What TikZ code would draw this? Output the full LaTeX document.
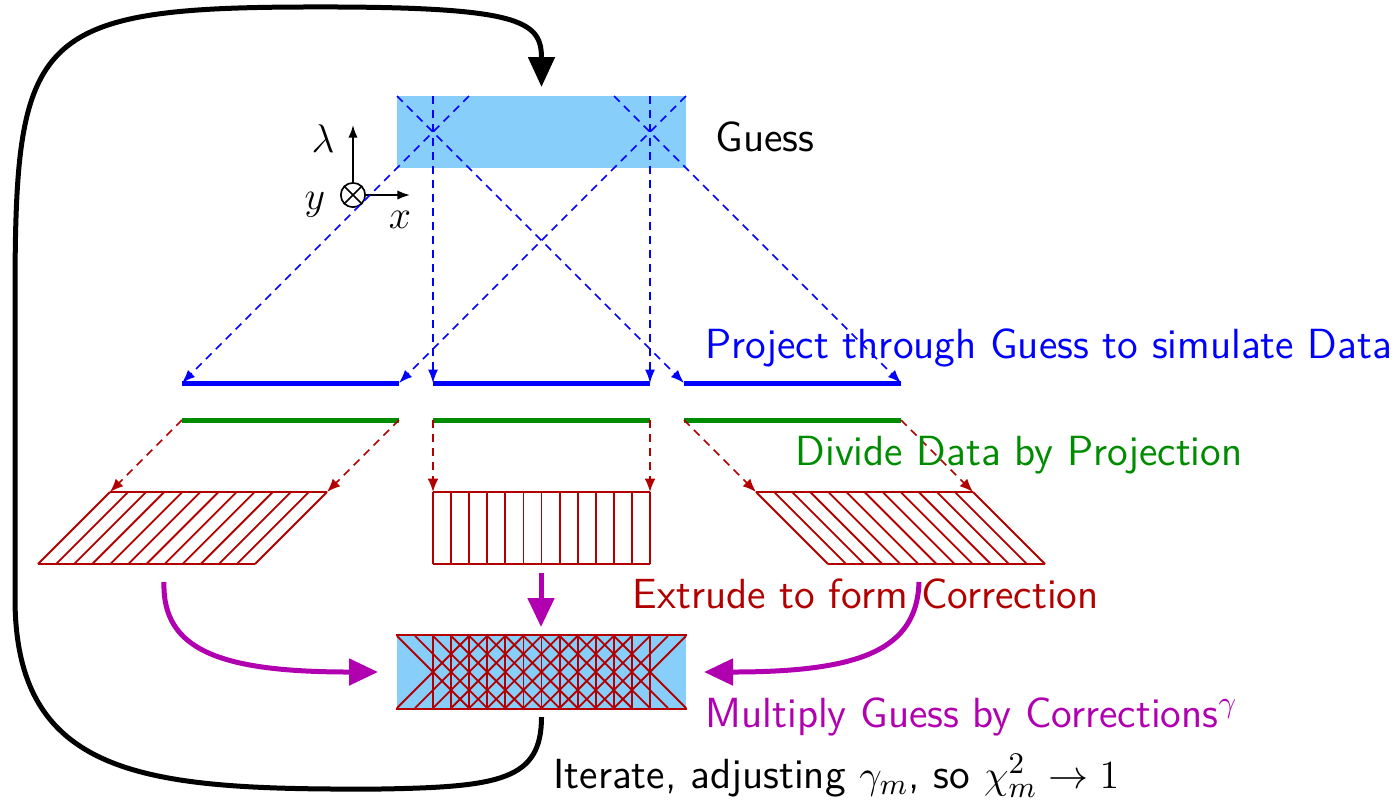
\documentclass[tikz,border=0pt]{standalone}
\usetikzlibrary{arrows.meta,calc}
\definecolor{lsb}{RGB}{135,206,250}
\definecolor{dgreen}{RGB}{0,140,0}
\definecolor{dred}{RGB}{178,0,0}
\definecolor{purp}{RGB}{176,0,176}
\tikzset{
  bluedash/.style={blue, line width=0.5pt, dash pattern=on 2.4pt off 1.8pt, -{Latex[length=4pt,width=3pt]}},
  reddash/.style={dred, line width=0.5pt, dash pattern=on 2.4pt off 1.8pt, -{Latex[length=4pt,width=3.2pt]}},
  stripline/.style={line width=1.5pt},
  hatch/.style={dred, line width=0.55pt},
  bigarrow/.style={purp, line width=1.5pt, -{Triangle[length=8.7pt,width=7.8pt]}},
  looparrow/.style={black, line width=1.5pt, -{Triangle[length=9pt,width=7.8pt]}},
  axarrow/.style={black, line width=0.5pt, -{Latex[length=3.8pt,width=2.8pt]}},
  lbl/.style={anchor=base west, inner sep=0, font=\sffamily\fontsize{12.65}{15}\selectfont},
  axlbl/.style={inner sep=0, font=\fontsize{13}{15}\selectfont},
  boxnode/.style={fill=lsb, inner sep=0, minimum width=86.7pt, minimum height=21.6pt}
}
\begin{document}
\begin{tikzpicture}[x=0.3pt,y=-0.3pt]
\useasboundingbox (0,0) rectangle (1395,800);

% guess box
\node[boxnode] (guess) at (541.5,132) {};
% product box
\node[boxnode] (prod) at (541.5,672) {};

% axes
\node[draw, circle, line width=0.5pt, minimum size=7.3pt, inner sep=0] (ax) at (353,195) {};
\draw[line width=0.5pt] (ax.north west) -- (ax.south east) (ax.north east) -- (ax.south west);
\coordinate (lamtip) at (353,125);
\coordinate (xtip) at (410,195);
\draw[axarrow] (ax.north) -- (lamtip);
\draw[axarrow] (ax.east) -- (xtip);
\node[axlbl] (lam) at (323,139) {$\lambda$};
\node[axlbl] (yl) at (315,205) {$y$};
\node[axlbl] (xl) at (400,220) {$x$};

% strip end coordinates
\coordinate (a1) at (182,383); \coordinate (a2) at (399,383);
\coordinate (b1) at (433,383); \coordinate (b2) at (650,383);
\coordinate (c1) at (684,383); \coordinate (c2) at (901,383);
\coordinate (ga1) at (182,420); \coordinate (ga2) at (399,420);
\coordinate (gb1) at (433,420); \coordinate (gb2) at (650,420);
\coordinate (gc1) at (684,420); \coordinate (gc2) at (901,420);
% sources on top of guess
\coordinate (s1) at (469,96); \coordinate (s2) at (433,96); \coordinate (s3) at (397,96);
\coordinate (s4) at (686,96); \coordinate (s5) at (650,96); \coordinate (s6) at (614,96);

\draw[bluedash] (s1) -- (a1);
\draw[bluedash] (s2) -- (b1);
\draw[bluedash] (s3) -- (c1);
\draw[bluedash] (s4) -- (a2);
\draw[bluedash] (s5) -- (b2);
\draw[bluedash] (s6) -- (c2);

% data strips
\draw[stripline, blue] (a1) -- (a2);
\draw[stripline, blue] (b1) -- (b2);
\draw[stripline, blue] (c1) -- (c2);
\draw[stripline, dgreen] (ga1) -- (ga2);
\draw[stripline, dgreen] (gb1) -- (gb2);
\draw[stripline, dgreen] (gc1) -- (gc2);

% correction tops
\coordinate (pa1) at (110,492); \coordinate (pa2) at (327,492);
\coordinate (pb1) at (433,492); \coordinate (pb2) at (650,492);
\coordinate (pc1) at (756,492); \coordinate (pc2) at (973,492);
\draw[reddash] (ga1) -- (pa1);
\draw[reddash] (ga2) -- (pa2);
\draw[reddash] (gb1) -- (pb1);
\draw[reddash] (gb2) -- (pb2);
\draw[reddash] (gc1) -- (pc1);
\draw[reddash] (gc2) -- (pc2);

% parallelograms
\draw[hatch] (110,492) -- (327,492) (38,564) -- (255,564);
\draw[hatch] (433,492) -- (650,492) (433,564) -- (650,564);
\draw[hatch] (756,492) -- (973,492) (828,564) -- (1045,564);
\foreach \k in {0,...,12}{
  \pgfmathsetmacro\dd{18.0833*\k}
  \draw[hatch] (110+\dd,492) -- (38+\dd,564);
  \draw[hatch] (433+\dd,492) -- (433+\dd,564);
  \draw[hatch] (756+\dd,492) -- (828+\dd,564);
}

% product hatch
\foreach \k in {0,...,12}{
  \pgfmathsetmacro\xx{433+18.0833*\k}
  \draw[hatch] (\xx,636) -- (\xx,708);
  \draw[hatch] (\xx+36,636) -- (\xx-36,708);
  \draw[hatch] (\xx-36,636) -- (\xx+36,708);
}
\draw[hatch] (prod.north west) -- (prod.north east);
\draw[hatch] (prod.south west) -- (prod.south east);

% magenta arrows
\coordinate (ml) at (164,582); \coordinate (mlt) at (378,672);
\coordinate (mm) at (541,573); \coordinate (mmt) at (541,627);
\coordinate (mr) at (919,582); \coordinate (mrt) at (704,672);
\draw[bigarrow] (mm) -- (mmt);
\draw[bigarrow] (ml) .. controls (162,650) and (220,672) .. (mlt);
\draw[bigarrow] (mr) .. controls (917,650) and (860,672) .. (mrt);

% iterate loop
\coordinate (lstart) at (541.5,717);
\coordinate (ltip) at (541.5,87);
\draw[looparrow] (lstart) .. controls (541.5,780) and (500,787) .. (380,789)
  .. controls (150,790) and (16,780) .. (15,600) -- (15,300)
  .. controls (15,40) and (30,8) .. (300,7)
  .. controls (520,6) and (541.5,20) .. (ltip);

% labels
\node[lbl] (tguess) at (715,151) {Guess};
\node[lbl, text=blue] (tproj) at (705,358) {Project through Guess to simulate Data};
\node[lbl, text=dgreen] (tdiv) at (795,465) {Divide Data by Projection};
\node[lbl, text=dred] (text) at (632,608) {Extrude to form Correction};
\node[lbl, text=purp] (tmul) at (705,727) {Multiply Guess by Corrections$^{\gamma}$};
\node[lbl] (tit) at (553,788) {Iterate, adjusting $\gamma_m$, so $\chi^2_m\to1$};
\end{tikzpicture}
\end{document}
